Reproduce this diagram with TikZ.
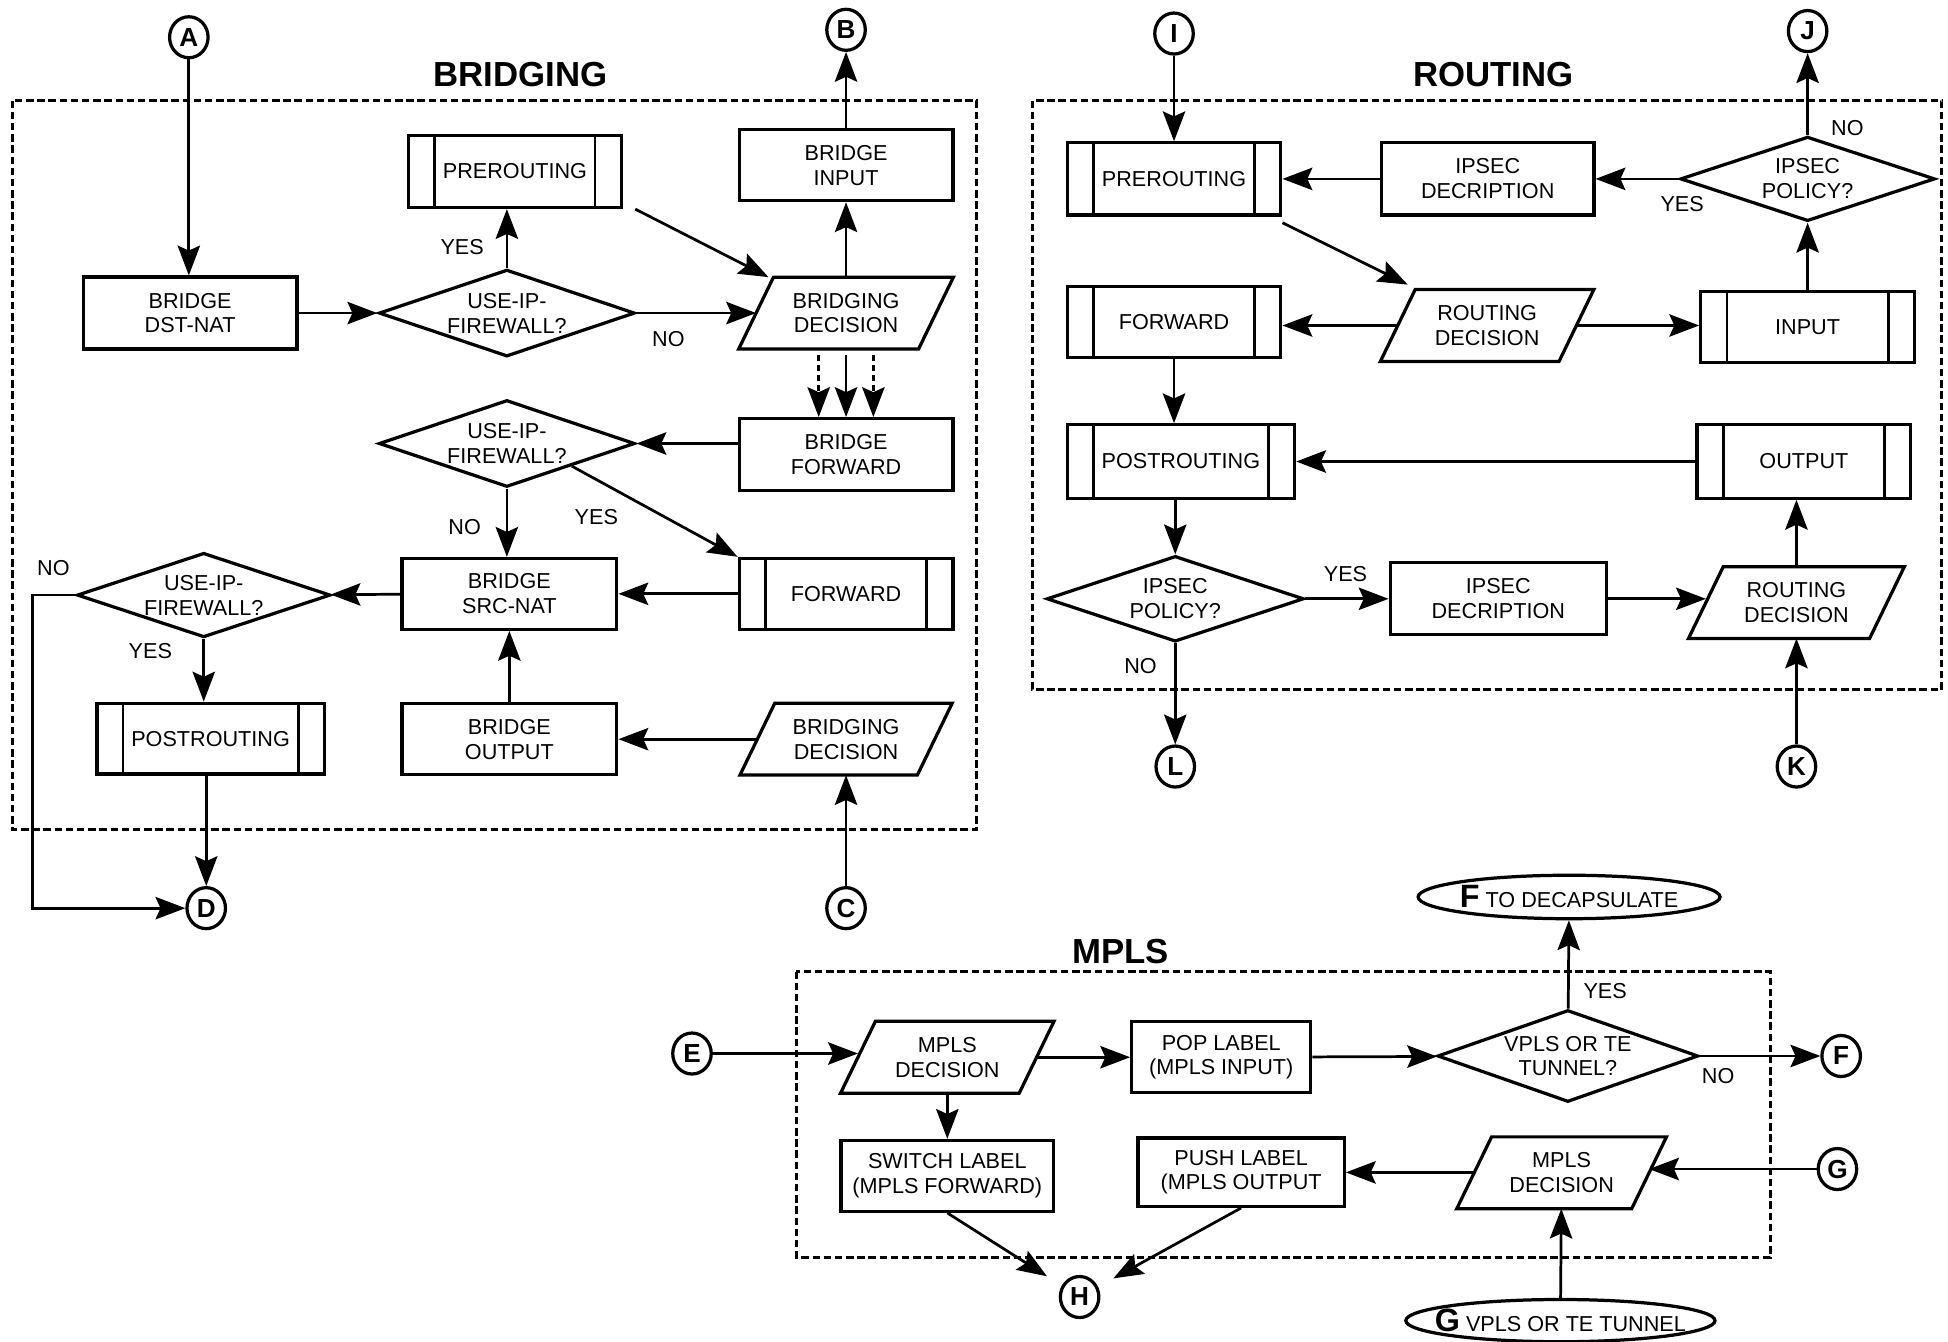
\documentclass[tikz,border=0pt]{standalone}
\usepackage{fontspec}
\setmainfont{Liberation Sans}
\usetikzlibrary{shapes.geometric,arrows.meta,calc}
\newcommand\pgdraw[1]{\draw[line width=1.3pt] ($(#1.south west)+(-14,0)$) -- ($(#1.south east)+(-14,0)$) -- ($(#1.north east)+(14,0)$) -- ($(#1.north west)+(14,0)$) -- cycle;}
\begin{document}
\begin{tikzpicture}[x=0.5pt,y=-0.5pt,
  every node/.style={font=\fontsize{8.7}{10}\selectfont, align=center, inner sep=0pt},
  box/.style={draw, line width=1.3pt, rectangle},
  pbox/.style={box, path picture={\draw[line width=1.1pt] ([xshift=10.5pt]path picture bounding box.north west) -- ([xshift=10.5pt]path picture bounding box.south west) ([xshift=-10.5pt]path picture bounding box.north east) -- ([xshift=-10.5pt]path picture bounding box.south east);}},
  dia/.style={draw, diamond, line width=1.3pt, aspect=2.9},
  pg/.style={rectangle, minimum height=28.5pt},
  circ/.style={draw, ellipse, line width=1.3pt, minimum width=15.5pt, minimum height=16.5pt, font=\fontsize{10.5}{11}\selectfont\bfseries},
  term/.style={draw, ellipse, line width=1.3pt, inner ysep=1.2pt},
  arr/.style={-{Stealth[length=12pt,width=9pt,inset=2pt]}, line width=1.1pt},
  darr/.style={arr, dash pattern=on 2.5pt off 1.5pt},
  grp/.style={draw, line width=1.2pt, dash pattern=on 3pt off 1.5pt},
  ttl/.style={font=\fontsize{14}{16}\selectfont\bfseries}
]
\fill[white] (0,0) rectangle (1568,1080);
\useasboundingbox (0,0) rectangle (1568,1080);

% ================= BRIDGING =================
\node[ttl] (tb) at (419,60) {BRIDGING};
\draw[grp] (10,81) rectangle (786,668);
\node[circ] (A) at (152,30) {A};
\node[circ] (B) at (681,24) {B};
\node[circ] (C) at (681,731) {C};
\node[circ] (D) at (166,731) {D};
\node[box, minimum width=86pt, minimum height=29pt] (dstnat) at (153,252) {BRIDGE\\DST-NAT};
\node[dia, minimum width=103pt, minimum height=35pt] (d1) at (408,252) {USE-IP-\\FIREWALL?};
\node[pbox, minimum width=85.5pt, minimum height=29pt] (pre1) at (414.5,138) {PREROUTING};
\node[box, minimum width=86pt, minimum height=28.5pt] (binput) at (681,133) {BRIDGE\\INPUT};
\node[pg, minimum width=72pt] (bdec1) at (681,252) {BRIDGING\\DECISION};
\pgdraw{bdec1}
\node[box, minimum width=86pt, minimum height=29pt] (bfwd) at (681,366) {BRIDGE\\FORWARD};
\node[dia, minimum width=103pt, minimum height=35pt] (d2) at (408,357) {USE-IP-\\FIREWALL?};
\node[pbox, minimum width=86pt, minimum height=28.5pt] (fwd1) at (681,478) {FORWARD};
\node[box, minimum width=86.5pt, minimum height=28.5pt] (srcnat) at (410,478) {BRIDGE\\SRC-NAT};
\node[dia, minimum width=102pt, minimum height=34pt] (d3) at (164,479) {USE-IP-\\FIREWALL?};
\node[pbox, minimum width=91.5pt, minimum height=28.5pt] (post1) at (169.5,594.5) {POSTROUTING};
\node[box, minimum width=86.5pt, minimum height=28.5pt] (bout) at (410,595) {BRIDGE\\OUTPUT};
\node[pg, minimum width=71pt] (bdec2) at (681,595) {BRIDGING\\DECISION};
\pgdraw{bdec2}

\draw[arr] (A) -- (A |- dstnat.north);
\draw[arr] (dstnat) -- (d1);
\draw[arr] (d1.north) -- (d1.north |- pre1.south);
\draw[arr] (d1) -- (bdec1);
\draw[arr] ($(pre1.south east)+(10,0)$) -- ($(bdec1.north west)+(10,0)$);
\draw[arr] (bdec1) -- (binput);
\draw[arr] (binput) -- (B);
\draw[darr] ($(bdec1.south)+(-22,5)$) -- ($(bfwd.north)+(-22,0)$);
\draw[arr] ($(bdec1.south)+(0,5)$) -- (bfwd.north);
\draw[darr] ($(bdec1.south)+(22,5)$) -- ($(bfwd.north)+(22,0)$);
\draw[arr] (bfwd.west |- d2.east) -- (d2.east);
\draw[arr] (d2) -- (d2 |- srcnat.north);
\draw[arr] (d2.south east) -- (fwd1.north west);
\draw[arr] (fwd1) -- (srcnat);
\draw[arr] (srcnat) -- (d3);
\draw[arr] (d3) -- (d3 |- post1.north);
\coordinate (dl) at (26,600);
\draw[arr] (d3.west) -| (dl) |- (D);
\draw[arr] (D |- post1.south) -- (D);
\draw[arr] (bout) -- (srcnat);
\draw[arr] (bdec2) -- (bout);
\draw[arr] (C) -- (bdec2);

\node (l1) at (372,199) {YES};
\node (l2) at (538,273) {NO};
\node (l3) at (374,424) {NO};
\node (l4) at (480,416) {YES};
\node (l5) at (43,457) {NO};
\node (l6) at (121,524) {YES};

% ================= ROUTING =================
\node[ttl] (tr) at (1202,60) {ROUTING};
\draw[grp] (831,81) rectangle (1563,555);
\node[circ] (I) at (945,27) {I};
\node[circ] (J) at (1455,25) {J};
\node[circ] (K) at (1446,617) {K};
\node[circ] (L) at (946,617) {L};
\node[pbox, minimum width=86pt, minimum height=29pt] (pre2) at (945,144) {PREROUTING};
\node[box, minimum width=85.5pt, minimum height=29pt] (ipsec1) at (1197.5,144) {IPSEC\\DECRIPTION};
\node[dia, minimum width=102.5pt, minimum height=34pt] (dp1) at (1455,144) {IPSEC\\POLICY?};
\node[pg, minimum width=71.5pt] (rdec1) at (1197,262) {ROUTING\\DECISION};
\pgdraw{rdec1}
\node[pbox, minimum width=86pt, minimum height=28.5pt] (fwd2) at (945,259) {FORWARD};
\node[pbox, minimum width=86pt, minimum height=28.5pt] (inp) at (1455,263) {INPUT};
\node[pbox, minimum width=91.5pt, minimum height=29.5pt] (post2) at (950.5,371.5) {POSTROUTING};
\node[pbox, minimum width=86pt, minimum height=29.5pt] (outp) at (1452,371.5) {OUTPUT};
\node[dia, minimum width=103.5pt, minimum height=34.5pt] (dp2) at (946,482) {IPSEC\\POLICY?};
\node[box, minimum width=87pt, minimum height=29pt] (ipsec2) at (1206,482) {IPSEC\\DECRIPTION};
\node[pg, minimum width=72.5pt] (rdec2) at (1446,485) {ROUTING\\DECISION};
\pgdraw{rdec2}

\draw[arr] (I) -- (I |- pre2.north);
\draw[arr] (dp1) -- (J);
\draw[arr] (dp1) -- (ipsec1);
\draw[arr] (ipsec1) -- (pre2);
\draw[arr] ($(pre2.south east)+(0,5)$) -- ($(rdec1.north west)+(8,-4)$);
\draw[arr] (rdec1.west) -- (rdec1.west -| fwd2.east);
\draw[arr] (rdec1.east) -- (rdec1.east -| inp.west);
\draw[arr] (inp) -- (dp1);
\draw[arr] (fwd2) -- (fwd2 |- post2.north);
\draw[arr] (outp) -- (post2);
\draw[arr] (dp2 |- post2.south) -- (dp2);
\draw[arr] (dp2) -- (ipsec2);
\draw[arr] (ipsec2.east) -- (ipsec2.east -| rdec2.west);
\draw[arr] (rdec2) -- (rdec2 |- outp.south);
\draw[arr] (K) -- (rdec2);
\draw[arr] (dp2) -- (L);

\node (l7) at (1487,103) {NO};
\node (l8) at (1354,164) {YES};
\node (l9) at (1083,462) {YES};
\node (l10) at (918,536) {NO};

% ================= MPLS =================
\node[ttl] (tm) at (902,766) {MPLS};
\draw[grp] (641,782) rectangle (1425,1012);
\node[circ] (E) at (557,848) {E};
\node[circ] (H) at (869,1044) {H};
\node[circ] (F) at (1482,850) {F};
\node[circ] (G) at (1479,941) {G};
\node[pg, minimum width=71.5pt] (mdec1) at (762.5,851) {MPLS\\DECISION};
\pgdraw{mdec1}
\node[box, minimum width=72pt, minimum height=28.5pt] (pop) at (983,851) {POP LABEL\\(MPLS INPUT)};
\node[dia, minimum width=105pt, minimum height=37pt] (dv) at (1262,850) {VPLS OR TE\\TUNNEL?};
\node[term, inner xsep=-1.3pt, minimum width=121.5pt, minimum height=17.5pt] (fdec) at (1263,722) {{\fontsize{13}{13}\selectfont\bfseries F} TO DECAPSULATE};
\node[box, minimum width=85.5pt, minimum height=28.5pt] (swl) at (762.5,946.5) {SWITCH LABEL\\(MPLS FORWARD)};
\node[box, minimum width=83pt, minimum height=27.5pt] (push) at (999,943.5) {PUSH LABEL\\(MPLS OUTPUT};
\node[pg, minimum width=70pt] (mdec2) at (1257,944) {MPLS\\DECISION};
\pgdraw{mdec2}
\node[term, inner xsep=-6.5pt, minimum width=124pt, minimum height=17pt] (gvp) at (1256,1063) {{\fontsize{13}{13}\selectfont\bfseries G} VPLS OR TE TUNNEL};

\draw[arr] (E) -- (E -| mdec1.west);
\draw[arr] (mdec1) -- (pop);
\draw[arr] (pop) -- (dv);
\draw[arr] (dv) -- (fdec);
\draw[arr] (dv) -- (F);
\draw[arr] (mdec1) -- (swl);
\draw[arr] (mdec2) -- (push);
\draw[arr] (G) -- (G -| mdec2.east);
\draw[arr] (gvp) -- (mdec2);
\draw[arr, shorten >=7pt] (swl.south) -- (H);
\draw[arr, shorten >=7pt] (push.south) -- (H);

\node (l11) at (1292,798) {YES};
\node (l12) at (1383,866) {NO};
\end{tikzpicture}
\end{document}
